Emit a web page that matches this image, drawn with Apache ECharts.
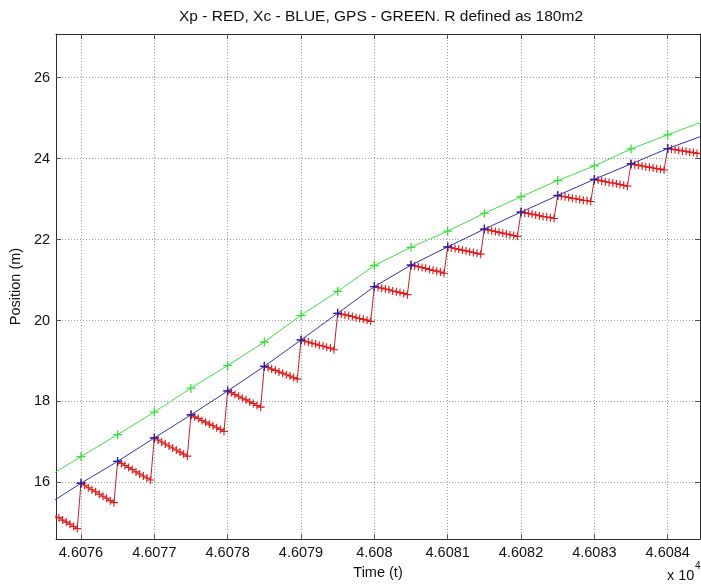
<!DOCTYPE html>
<html>
<head>
<meta charset="utf-8">
<script src="https://cdn.jsdelivr.net/npm/echarts@6/dist/echarts.min.js"></script>
<style>
    html, body { margin: 0; padding: 0; background: #fff; }
    #chart { width: 701px; height: 585px; }
</style>
</head>
<body>
<div id="chart"></div>
<script>
// 时间刻度 / 位置刻度
var timeTicks = [46076, 46077, 46078, 46079, 46080, 46081, 46082, 46083, 46084];
var posTicks = [16, 18, 20, 22, 24, 26];

// GPS 与 Xc 的采样时间（每 0.5 一个点）
var sampleTime = [46075.5, 46076, 46076.5, 46077, 46077.5, 46078, 46078.5, 46079, 46079.5, 46080,
    46080.5, 46081, 46081.5, 46082, 46082.5, 46083, 46083.5, 46084, 46084.5];

// GPS - GREEN
var gpsValues = [16.08, 16.64, 17.18, 17.74, 18.33, 18.89, 19.47, 20.13, 20.72, 21.36,
    21.81, 22.21, 22.65, 23.06, 23.46, 23.82, 24.24, 24.59, 24.93];

// Xc - BLUE
var xcValues = [15.40, 15.98, 16.52, 17.10, 17.67, 18.26, 18.87, 19.52, 20.18, 20.84,
    21.37, 21.82, 22.26, 22.68, 23.09, 23.49, 23.87, 24.25, 24.58];

// Xp - RED，每段从 sampleTime[k] 开始，步长 0.05
var xpStep = 0.05;
var xpSegments = [
    [15.34, 15.29, 15.23, 15.18, 15.13, 15.07, 15.02, 14.97, 14.91, 14.86],
    [15.98, 15.93, 15.87, 15.82, 15.77, 15.71, 15.66, 15.61, 15.55, 15.50],
    [16.52, 16.47, 16.42, 16.37, 16.32, 16.26, 16.21, 16.16, 16.11, 16.06],
    [17.10, 17.05, 17.00, 16.95, 16.90, 16.85, 16.80, 16.75, 16.70, 16.65],
    [17.67, 17.62, 17.58, 17.53, 17.49, 17.44, 17.40, 17.35, 17.31, 17.26],
    [18.26, 18.22, 18.17, 18.13, 18.08, 18.04, 17.99, 17.95, 17.90, 17.86],
    [18.87, 18.84, 18.80, 18.77, 18.73, 18.70, 18.66, 18.63, 18.59, 18.56],
    [19.52, 19.49, 19.47, 19.44, 19.42, 19.39, 19.37, 19.34, 19.32, 19.28],
    [20.18, 20.16, 20.14, 20.12, 20.10, 20.07, 20.05, 20.03, 20.01, 19.98],
    [20.84, 20.82, 20.80, 20.78, 20.76, 20.73, 20.71, 20.69, 20.67, 20.64],
    [21.37, 21.35, 21.33, 21.31, 21.29, 21.26, 21.24, 21.22, 21.20, 21.17],
    [21.82, 21.80, 21.78, 21.76, 21.74, 21.72, 21.70, 21.68, 21.66, 21.64],
    [22.26, 22.24, 22.22, 22.20, 22.18, 22.16, 22.14, 22.12, 22.10, 22.08],
    [22.68, 22.66, 22.65, 22.63, 22.61, 22.59, 22.57, 22.56, 22.54, 22.52],
    [23.09, 23.07, 23.06, 23.04, 23.02, 23.01, 22.99, 22.97, 22.96, 22.94],
    [23.49, 23.47, 23.45, 23.43, 23.41, 23.40, 23.38, 23.36, 23.34, 23.32],
    [23.87, 23.85, 23.84, 23.82, 23.80, 23.79, 23.77, 23.75, 23.74, 23.72],
    [24.25, 24.24, 24.22, 24.21, 24.19, 24.18, 24.16, 24.15, 24.13, 24.12]
];

window.onload = function () {
    var chart = echarts.init(document.getElementById('chart'));

    var fontFamily = '"Liberation Sans", Arial, Helvetica, sans-serif';
    // "+" 形状的标记
    var plus = 'path://M4.3,0h1.4v10h-1.4z M0,4.3h10v1.4h-10z';

    var toPairs = function (xs, ys) {
        var out = [];
        for (var i = 0; i < xs.length; i++) {
            out.push([xs[i], ys[i]]);
        }
        return out;
    };

    var xpData = [];
    for (var k = 0; k < xpSegments.length; k++) {
        for (var j = 0; j < xpSegments[k].length; j++) {
            xpData.push([+(sampleTime[k] + j * xpStep).toFixed(3), xpSegments[k][j]]);
        }
    }

    var xMin = 46075.66, xMax = 46084.44;
    var yMin = 14.6, yMax = 27.08;
    var boxColor = '#2b2b2b';
    var tickStyle = { show: true, inside: true, length: 5, lineStyle: { color: '#555', width: 1 } };

    var option = {
        animation: false,
        title: {
            text: 'Xp - RED, Xc - BLUE, GPS - GREEN. R defined as 180m2',
            left: 376,
            top: 4,
            textAlign: 'center',
            textStyle: { fontFamily: fontFamily, fontSize: 15.5, fontWeight: 'normal', color: '#111' }
        },
        grid: { left: 55, right: 1, top: 34, bottom: 44 },
        xAxis: [
            {
                type: 'value',
                min: xMin,
                max: xMax,
                name: 'Time (t)',
                nameLocation: 'middle',
                nameGap: 24,
                nameTextStyle: { fontFamily: fontFamily, fontSize: 14.5, color: '#111' },
                axisLine: { show: true, onZero: false, lineStyle: { color: boxColor, width: 1 } },
                axisTick: Object.assign({ customValues: timeTicks }, tickStyle),
                axisLabel: {
                    customValues: timeTicks,
                    margin: 6,
                    fontFamily: fontFamily,
                    fontSize: 14.5,
                    color: '#111',
                    formatter: function (v) { return String(+(v / 10000).toFixed(4)); }
                },
                splitLine: { show: true, lineStyle: { color: '#9a9a9a', type: [1, 2], width: 1 } }
            },
            {
                type: 'value',
                position: 'top',
                min: xMin,
                max: xMax,
                axisLine: { show: true, onZero: false, lineStyle: { color: boxColor, width: 1 } },
                axisTick: Object.assign({ customValues: timeTicks }, tickStyle),
                axisLabel: { show: false },
                splitLine: { show: false }
            }
        ],
        yAxis: [
            {
                type: 'value',
                min: yMin,
                max: yMax,
                name: 'Position (m)',
                nameLocation: 'middle',
                nameGap: 28,
                nameTextStyle: { fontFamily: fontFamily, fontSize: 14.5, color: '#111' },
                axisLine: { show: true, onZero: false, lineStyle: { color: boxColor, width: 1 } },
                axisTick: Object.assign({ customValues: posTicks }, tickStyle),
                axisLabel: {
                    customValues: posTicks,
                    margin: 6,
                    fontFamily: fontFamily,
                    fontSize: 14.5,
                    color: '#111'
                },
                splitLine: { show: true, lineStyle: { color: '#9a9a9a', type: [1, 2], width: 1 } }
            },
            {
                type: 'value',
                position: 'right',
                min: yMin,
                max: yMax,
                axisLine: { show: true, onZero: false, lineStyle: { color: boxColor, width: 1 } },
                axisTick: Object.assign({ customValues: posTicks }, tickStyle),
                axisLabel: { show: false },
                splitLine: { show: false }
            }
        ],
        graphic: [
            {
                type: 'text',
                left: 667,
                top: 568,
                style: { text: 'x 10', font: '14.5px ' + fontFamily, fill: '#111' }
            },
            {
                type: 'text',
                left: 695,
                top: 561,
                style: { text: '4', font: '10px ' + fontFamily, fill: '#111' }
            }
        ],
        series: [
            {
                name: 'Xp',
                type: 'line',
                data: xpData,
                symbol: plus,
                symbolSize: 8,
                showAllSymbol: true,
                lineStyle: { color: '#c42424', width: 1 },
                itemStyle: { color: '#e01c1c' },
                z: 2
            },
            {
                name: 'Xc',
                type: 'line',
                data: toPairs(sampleTime, xcValues),
                symbol: plus,
                symbolSize: 9,
                showAllSymbol: true,
                lineStyle: { color: '#3232b4', width: 1 },
                itemStyle: { color: '#2020a8' },
                z: 3
            },
            {
                name: 'GPS',
                type: 'line',
                data: toPairs(sampleTime, gpsValues),
                symbol: plus,
                symbolSize: 9,
                showAllSymbol: true,
                lineStyle: { color: '#44dc44', width: 1 },
                itemStyle: { color: '#38e038' },
                z: 4
            }
        ]
    };

    chart.setOption(option);
};
</script>
</body>
</html>
